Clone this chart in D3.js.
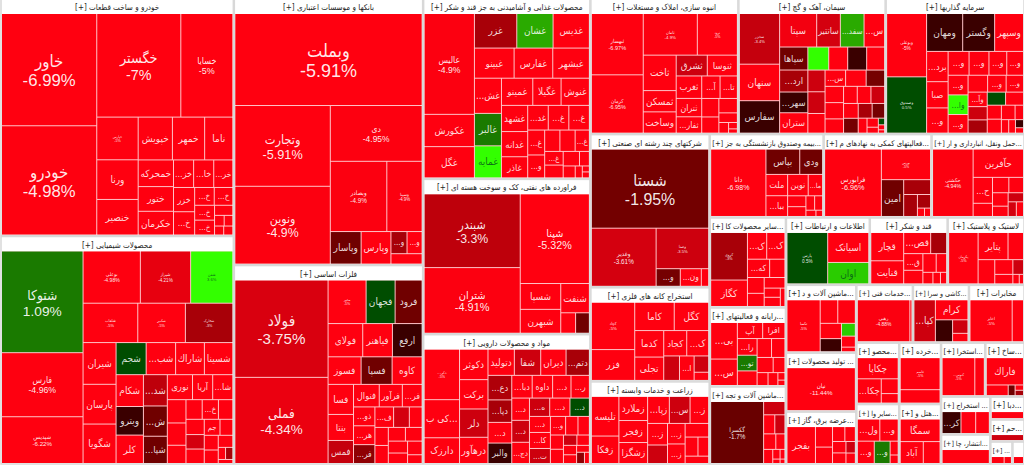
<!DOCTYPE html>
<html>
<head>
<meta charset="utf-8">
<script src="https://cdn.jsdelivr.net/npm/d3@7"></script>
<style>
html,body{margin:0;padding:0;background:#fff;overflow:hidden}
text{font-family:"DejaVu Sans Condensed","DejaVu Sans",sans-serif}
text.pct{font-family:"Liberation Sans",sans-serif}
</style>
</head>
<body>
<svg id="map" width="1024" height="468"></svg>
<script>
const sectorTitles = [
"خودرو و ساخت قطعات [+]","محصولات شیمیایی [+]","بانکها و موسسات اعتباری [+]","فلزات اساسی [+]",
"محصولات غذایی و آشامیدنی به جز قند و شکر [+]","فراورده های نفتی، کک و سوخت هسته ای [+]","مواد و محصولات دارویی [+]",
"انبوه سازی، املاک و مستغلات [+]","سیمان، آهک و گچ [+]","سرمایه گذاریها [+]",
"شرکتهای چند رشته ای صنعتی [+]","استخراج کانه های فلزی [+]","زراعت و خدمات وابسته [+]",
"...بیمه وصندوق بازنشستگی به جز [+]","...فعالیتهای کمکی به نهادهای م [+]","...حمل ونقل، انبارداری و ار [+]",
"...سایر محصولات کا [+]","...رایانه و فعالیتهای [+]","...ماشین آلات و تجه [+]",
"اطلاعات و ارتباطات [+]","قند و شکر [+]","لاستیک و پلاستیک [+]",
"...ماشین آلات و د [+]","... تولید محصولات [+]","...عرضه برق، گاز [+]",
"...خدمات فنی [+]","...کاشی و سرا [+]","مخابرات [+]",
"...محصو [+]","...سایر وا [+]","...خرده [+]","...هتل و [+]",
"...استخرا [+]","...ساخ [+]","... استخراج [+]","...انتشار، چا [+]","...دبا [+]","...حم [+]","... [+]",""
];
const sectorSizes = [
55221,53124,50274,37611,30060,25885,21710,20000,19900,18765,18207,11186,9877,9462,8964,7719,
6840,6004,5928,5628,5226,5159,4760,4130,3710,3260,3230,3200,2623,2580,2562,2520,2376,2106,1862,1470,782,748,506,276
];
const leafLabels = [
["خاور","خودرو","خگستر","خسایا","خپارس","ورنا","خنصیر","خپویش","خمهر","ناما","خمحرکه","ختور","خکرمان","خز...","خزر","خ...","خا...","خر...","خ...","خ...","خ...","خ...","","","","",""],
["شتوکا","فارس","شپدیس","بوعلی","شیراز","شفن","شلعاب","شکبیر","شخارک","شیران","پارسان","شگویا","شجم","شب...","شاراك","شسینا","شکام","ویترو","کلر","شد...","ش...","شپا...","نوری","آریا","شا...","","","","","خ...","","","جم","","","","","","","","",""],
["وبملت","وتجارت","ونوین","دی","وبصادر","وسینا","وپاسار","وپارس","و...","و...",""],
["فولاد","فملی","محور","فجهان","فرود","فولای","فیاهنر","ارفع","فسوز","فسپا","کاوه","فسا","بنتا","فمس","فنوال","فرآور","فر...","ذو...","ف...","","","هر...","","","","فر...","","","","",""],
["عالیس","غکورش","غگل","غزر","غشان","غدیس","غبینو","غفارس","غبشهر","غش...","غالبر","غمایه","غمینو","غگیلا","غنوش","غشهد","غدانه","غاذر","غد...","غ...","غ...","غ...","و...","","","غ...","غ...","","","","","","",""],
["شبندر","شتران","شپنا","شسپا","شنفت","شبهرن","",""],
["دکی...","...کی ب","دارزک","دکوثر","برکت","دلر","درهآور","دتولید","شفا","دیران","دتم...","دع...","دپا...","د...","والبر","دبا...","داوه","د...","ر...","د...","ه...","د...","د...","دج...","د...","د...","و...","","","کا...","ت...","","","","","","","","",""],
["ثبهساز","کرمان","ثامان","ثرود","ثاخت","ثمسکن","وساخت","ثشرق","ثنوسا","ثغرب","آ...","تا...","ثتران","ثفار...","","","","","","",""],
["سخزر","سنهان","سفارس","سپتا","ساتتیر","سفد...","س...","سپاها","","","","","ارد...","سهر...","ستران","","","","س...","","","","","","","","","","","","","","","","","",""],
["وبوعلی","وصندوق","ومهان","وگستر","وسپهر","برد...","و...","و...","و...","و...","صبا","و...","","و...","وآ...","وا...","و...","و...","و...","","","","","","","","","","","",""],
["شستا","وغدیر","وصنا","و...","ون...",""],
["کچاد","فزر","کاما","کگل","کدما","کجاد","ک...","تجلی","","ا...","",""],
["تلیسه","زفکا","زملارد","زفجر","زشگزا","زپا...","س...","ز...","ز...","ز...","","","ز...","","",""],
["دانا","بپاس","ودی","ملت","نوین","ما...","ببا...","","","","","",""],
["فرابورس","بورس","امین","","","","",""],
["حکشتی","حآفرین","ح...","","","","","","","","",""],
["کروی","ک...","ک...","که...","","کگاز","","","","","",""],
["بی...","س...","آپ","افرا","را...","","","تو...","","","","","","",""],
["گکسرا","","","","","","","","","",""],
["پارس","اسیاتک","اوان"],
["قچار","قنایت","قص...","","ق...","","","","","","",""],
["پکرمان","پتایر","","","","","","",""],
["تکمبا","","","","","","",""],
["نیان"],
["بفجر","","","","","","","",""],
["رهبی",""],
["کپا...","کرام","","",""],
["اخابر",""],
["چکاپا","چکا...","",""],
["ول...","و...","و...","و...","",""],
["قاسم",""],
["سمگا","آباد",""],
["کنوس...",""],
["فاراك","","","",""],
["کر...","",""],
[""],[""],[""],["",""],[""]
];
const leafValues = [
[10416,10137,8484,5252,1722,1600,1435,1428,1344,1176,918,850,816,540,500,480,540,513,340,323,288,288,180,100,90,80,80],
[7900,4977,3634,2850,2500,2100,2052,1786,1780,1312,1250,1240,920,900,880,870,830,745,740,713,690,621,600,480,480,414,396,324,304,304,266,270,240,180,252,196,168,252,196,84,84,56],
[17017,7614,7332,5060,3920,2450,990,957,352,330,320],
[8544,7565,1558,1189,1107,1085,930,930,858,806,780,720,624,552,546,490,420,380,361,304,247,380,228,216,216,380,228,221,190,187,120],
[4800,1536,1488,1386,1188,1188,1131,1102,1044,900,830,820,806,728,728,650,625,525,480,480,480,400,368,308,308,288,240,224,224,136,136,80,40,40],
[6862,6110,6003,1014,812,936,294,273],
[1617,1221,825,783,756,729,675,624,624,600,552,528,484,445,440,420,420,378,378,352,336,336,357,340,323,304,256,208,192,304,285,168,168,126,117,112,104,80,80,50],
[3050,2900,2160,1600,1120,672,672,620,600,550,396,374,450,400,304,256,266,171,99,54,36],
[1950,1404,1248,1188,759,759,660,621,460,418,418,396,594,560,550,357,357,323,320,320,288,288,224,208,208,288,224,224,176,252,196,126,98,64,40,30,20],
[2331,2072,1260,1116,1008,600,460,437,391,368,520,361,304,288,256,361,500,342,270,234,216,234,221,182,182,112,182,91,84,60,40],
[9009,3654,2067,414,360,126],
[1932,1260,1053,918,725,550,525,638,364,338,224,112],
[1014,702,644,588,560,546,520,468,399,336,299,342,320,228,190,161],
[3551,816,552,441,420,294,430,190,171,120,110,60,40],
[3618,1421,777,378,286,169,56,48],
[2546,1326,468,234,238,196,210,112,98,150,130],
[1485,437,414,345,225,825,238,187,187,126,126,72],
[900,650,375,330,304,252,234,285,266,225,165,130,117,49,35],
[3050,264,198,180,132,120,176,66,44,30,20],
[1950,1148,820],
[837,682,513,304,288,224,176,234,104,78,64],
[1350,725,375,360,238,140,153,54,36],
[1632,391,391,308,168,264,144,60],
[2814],
[962,320,256,168,140,143,99,130,90],
[2142,84],
[840,608,352,195,120],
[1722,462],
[820,552,238,153],
[462,378,352,330,104,64],
[1209,507],
[858,484,352],
[1147,333],
[910,209,66,40,40],
[414,322,299],
[658],[288],[128],[70,40],[80]
];
const leafChanges = [
[-6.99,-4.98,-7,-5,-5,-5,-5,-5,-5,-5,-5,-5,-5,-5,-5,-5,-5,-5,-5,-5,-5,-5,-5,-5,-5,-5,-5],
[1.09,-4.96,-6.22,-4.98,-4.21,3.6,-5,-5,-3,-5,-5,-5,0.5,-5,-5,-5,-5,-0.3,-5,-3.3,-1.9,-1.9,-5,-5,-5,-5,-5,-5,-5,-5,-5,-5,-5,-5,-3.6,-5,-5,-5,-5,-5,-3,-5],
[-5.91,-5.91,-4.9,-4.95,-4.9,-4.9,-1.9,-5,-3,-5,-5],
[-3.75,-4.34,-5,0.5,-1.9,-5,-5,-0.3,-5,-1.9,-5,-5,-5,-3.4,-5,-5,-5,-5,-5,-3.6,-5,-5,-5,-5,-5,-2.5,-5,-5,-5,-5,-5],
[-4.9,-5,-5,-3,1.6,-5,-5,-5,-5,-5,1.09,3.6,-5,-5,-5,-5,-5,-5,-5,-5,-5,-5,-5,-5,-5,-5,-5,-5,-5,-5,-5,-5,-5,-5],
[-3.3,-4.91,-5.32,-5,-5,-5,-5,-1.9],
[-5,-5,-5,-5,-5,-3.5,-5,-5,-3.5,-5,-3,-3.1,-3,-5,-0.3,-5,-5,-5,-5,-3.5,-3.5,-5,-5,-5,0.5,-5,-5,-5,-5,-5,-3.5,-5,-5,-3.5,-5,-5,-5,-5,-2.5,-5],
[-6.97,-6.95,-4.9,-5,-5,-5,-5,-3.5,-5,-5,-5,-5,-5,-5,-5,-5,-5,-5,-5,-5,-5],
[-3.4,-5,-0.3,-4.6,-3.6,1.6,-5,-1.9,3.6,-5,-0.3,-5,-3,-0.3,-5,-3.5,-3.5,-5,-5,-5,-2,-5,-5,-5,-2,-5,-5,-3.5,-2,-5,-3,-5,-5,-5,0.5,-5,-5],
[-5,0.5,-0.3,-0.3,-5,-5,-5,-5,-5,-5,-5,-5,-5,-5,-5,3.6,-5,-5,-5,-3.5,-5,-3,0.5,-5,-5,-5,-5,-5,-5,-0.3,-5],
[-1.95,-3.61,-3.5,-2,-5,-5],
[-5,-5,-5,-5,-5,-5,-5,-5,-3.5,-5,-3.5,-5],
[-5,-5,-5,-5,-5,-5,-3.5,-5,-5,-5,-5,-3.5,-5,-5,-5,-5],
[-6.98,-1.9,-1.9,-5,-5,-5,-5,-5,-5,-5,-5,-5,-5],
[-6.96,-5,-1.9,-3,-3,-3,-5,-5],
[-4.94,-5,-5,-5,-5,-5,-5,-3.6,-5,-5,-3.5],
[-3,-5,-5,-5,-5,-5,-5,-5,-5,-5,-5,-5],
[-5,-5,-5,-5,-5,-5,-5,1.09,-5,-5,-5,-5,-5,-5,-5],
[-1.7,-3.5,-5,-3.5,-5,-5,-5,-5,-5,-5,-5],
[0.5,-5,2.2],
[-5,-5,-5,-3,-5,-5,-5,-5,-5,-5,-5],
[-5,-5,-5,-5,-5,-3.5,-5,-5],
[-5,-5,-5,-5,2.2,-0.3,-5,-5],
[-11.44],
[-5,-5,-5,-5,-5,-5,-3.5,-5,-5],
[-4.88,-5],
[-3.5,-5,-0.3,-3.5,-5],
[-5,-5],
[-5,-5,-5,-5],
[-5,-5,-5,1.09,-5,-5],
[-5,-5],
[-5,-5,-5],
[-5,-5],
[-5,-5,-1.9,-5,-3],
[-0.3,-5,-5],
[-5],[-5],[-3.5],[-5,-5],[-5]
];

const changeStops = [-5,-3.6,-3,-1.9,-0.3,0.5,1.09,1.6,2.2,3.6];
const changeColors = ["#ff0010","#d4000f","#a80008","#700000","#3a0000","#004d00","#1a7a00","#2aaa00","#2acc00","#33ff00"];

var color = d3.scaleLinear().domain(changeStops).range(changeColors).clamp(true);
var bigFont = d3.scaleLinear()
    .domain([1800,3000,4300,5500,6800,7700,8500,10200,11250,18500])
    .range([3.5,4.8,6.4,8.5,10.5,12,13,15.6,16.7,18]);

var rootData = {children: sectorTitles.map(function(title,i) {
    var k = sectorSizes[i]/d3.sum(leafValues[i]);
    return {title: title, children: leafValues[i].map(function(v,j) {
        return {label: leafLabels[i][j]||"", size: v*k, change: leafChanges[i][j]===undefined ? -5 : leafChanges[i][j]};
    })};
})};

var root = d3.hierarchy(rootData)
    .sum(function(d){return d.size||0})
    .sort(function(a,b){return b.value-a.value});

d3.treemap()
    .size([1023,465])
    .tile(d3.treemapSquarify.ratio(1))
    .paddingInner(1)
    .paddingOuter(function(d){return d.depth==1 ? 1 : 0})
    .paddingTop(function(d){return d.depth==1 ? 15 : 0})(root);

var svg = d3.select("#map");
var chart = svg.append("g").attr("transform","translate(1,-1)");

var sectors = chart.selectAll("g.sector").data(root.children).enter().append("g").attr("class","sector");

sectors.append("rect")
    .attr("x",function(d){return d.x0}).attr("y",function(d){return d.y0})
    .attr("width",function(d){return d.x1-d.x0}).attr("height",function(d){return d.y1-d.y0})
    .attr("fill","#fff").attr("stroke","#d8d8d8").attr("stroke-width",1.5);

// gap colour between leaves
sectors.append("rect")
    .attr("x",function(d){return d.x0+1}).attr("y",function(d){return d.y0+15})
    .attr("width",function(d){return d.x1-d.x0-2}).attr("height",function(d){return Math.max(0,d.y1-d.y0-16)})
    .attr("fill","#ffc4c8");

sectors.append("text")
    .attr("x",function(d){return (d.x0+d.x1)/2}).attr("y",function(d){return d.y0+11})
    .attr("text-anchor","middle").attr("direction","rtl")
    .attr("font-size",8).attr("fill","#222")
    .text(function(d){return d.data.title})
    .each(function(d){ shrink(this,d.x1-d.x0-4,8); });

var leaves = chart.selectAll("g.leaf").data(root.leaves()).enter().append("g").attr("class","leaf");

leaves.append("rect")
    .attr("x",function(d){return d.x0}).attr("y",function(d){return d.y0})
    .attr("width",function(d){return Math.max(0,d.x1-d.x0)}).attr("height",function(d){return Math.max(0,d.y1-d.y0)})
    .attr("fill",function(d){return color(d.data.change)});

function shrink(node,maxW,size) {
    var w = node.getComputedTextLength();
    if (w > maxW && w > 0) {
        d3.select(node).attr("font-size",size*maxW/w);
    }
}

leaves.each(function(d) {
    if (!d.data.label) return;
    var g = d3.select(this);
    var cx = (d.x0+d.x1)/2, cy = (d.y0+d.y1)/2;
    var ink = d.data.change > 2 ? "#075a1a" : "#fff";
    if (d.value >= 1800) {
        var f = bigFont(d.value);
        g.append("text").attr("x",cx).attr("y",cy-f*0.15).attr("text-anchor","middle").attr("direction","rtl")
            .attr("font-size",f).attr("fill",ink).attr("fill-opacity",0.92).text(d.data.label);
        g.append("text").attr("class","pct").attr("x",cx).attr("y",cy+f*1.0).attr("text-anchor","middle").attr("direction","ltr")
            .attr("font-size",f).attr("fill",ink).attr("fill-opacity",0.92).text(d.data.change+"%");
    } else {
        var s = Math.min(10,6.5+d.value/230);
        var t = g.append("text").attr("x",cx).attr("y",cy+s*0.35).attr("text-anchor","middle").attr("direction","rtl")
            .attr("font-size",s).attr("fill",ink).attr("fill-opacity",0.85).text(d.data.label);
        shrink(t.node(),d.x1-d.x0-2,s);
    }
});
</script>
</body>
</html>
